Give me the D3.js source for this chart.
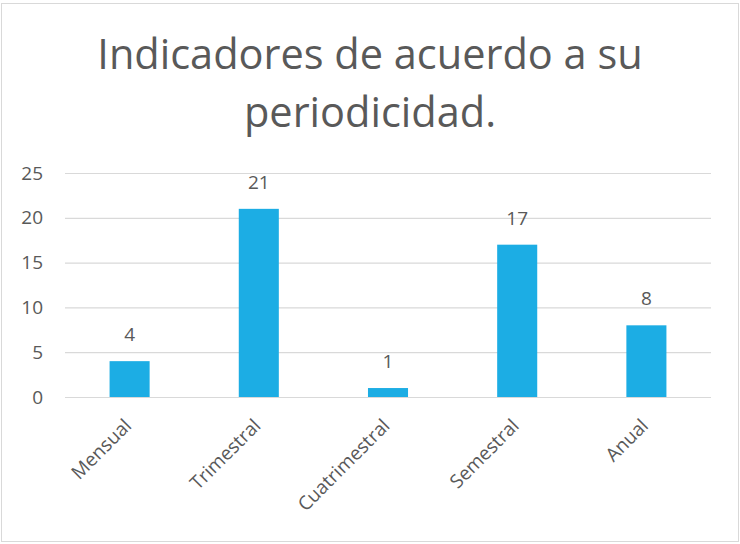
<!DOCTYPE html>
<html><head><meta charset="utf-8">
<script src="https://cdn.jsdelivr.net/npm/d3@7"></script>
<style>body{margin:0;background:#fff}svg{display:block}</style>
</head><body>
<svg id="c" width="740" height="544"></svg>
<script>
const categories = ["Mensual","Trimestral","Cuatrimestral","Semestral","Anual"];
const values = [4,21,1,17,8];
const yTicks = [0,5,10,15,20,25];
const titleLines = ["Indicadores de acuerdo a su","periodicidad."];

const svg = d3.select("#c");
const font = "'Open Sans', sans-serif";
const textColor = "#595959";

svg.append("rect").attr("x",1.5).attr("y",3.5).attr("width",737).attr("height",538)
  .attr("fill","#fff").attr("stroke","#d9d9d9").attr("stroke-width",1);

svg.append("g").selectAll("text").data(titleLines).join("text")
  .attr("x",370).attr("y",(d,i)=>69+i*58)
  .attr("text-anchor","middle").attr("font-family",font).attr("font-size",41.5)
  .attr("fill",textColor).text(d=>d);

const x = d3.scaleBand().domain(categories).range([65,711]).paddingInner(0.69).paddingOuter(0.345);
const y = d3.scaleLinear().domain([0,25]).range([397,173]);

svg.append("g").selectAll("line").data(yTicks).join("line")
  .attr("x1",65).attr("x2",711).attr("y1",d=>y(d)+0.5).attr("y2",d=>y(d)+0.5)
  .attr("stroke","#d9d9d9").attr("stroke-width",1.2);

svg.append("g").selectAll("text").data(yTicks).join("text")
  .attr("x",43).attr("y",d=>y(d)).attr("dy","0.35em").attr("text-anchor","end")
  .attr("font-family",font).attr("font-size",19).attr("fill",textColor).text(d=>d);

svg.append("g").selectAll("rect").data(values).join("rect")
  .attr("x",(d,i)=>x(categories[i])).attr("width",x.bandwidth())
  .attr("y",d=>y(d)).attr("height",d=>y(0)-y(d)).attr("fill","#1cade4");

svg.append("g").selectAll("text").data(values).join("text")
  .attr("x",(d,i)=>x(categories[i])+x.bandwidth()/2).attr("y",d=>y(d)-20)
  .attr("text-anchor","middle").attr("font-family",font).attr("font-size",19)
  .attr("fill",textColor).text(d=>d);

svg.append("g").selectAll("text").data(categories).join("text")
  .attr("transform",d=>`translate(${x(d)+x.bandwidth()/2+3},${y(0)+30}) rotate(-45)`)
  .attr("text-anchor","end").attr("font-family",font).attr("font-size",19)
  .attr("fill",textColor).text(d=>d);
</script>
</body></html>
